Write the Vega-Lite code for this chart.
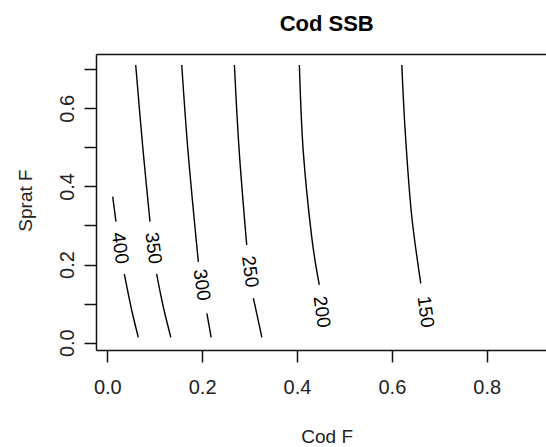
{
  "$schema": "https://vega.github.io/schema/vega-lite/v6.json",
  "width": 450,
  "height": 296,
  "autosize": "none",
  "padding": {"left": 96, "top": 54, "right": 0, "bottom": 97},
  "background": "white",
  "title": {"text": "Cod SSB", "font": "Liberation Sans", "fontSize": 22, "fontWeight": "bold", "color": "black", "anchor": "middle", "dx": 5.7, "baseline": "alphabetic", "offset": 1},
  "datasets": {
    "contours": [
      {"level": 400, "part": "a", "x": 0.0114, "y": 0.374},
      {"level": 400, "part": "a", "x": 0.0183, "y": 0.310},
      {"level": 400, "part": "b", "x": 0.0359, "y": 0.176},
      {"level": 400, "part": "b", "x": 0.0514, "y": 0.0837},
      {"level": 400, "part": "b", "x": 0.0654, "y": 0.0138},
      {"level": 350, "part": "a", "x": 0.0599, "y": 0.711},
      {"level": 350, "part": "a", "x": 0.0747, "y": 0.502},
      {"level": 350, "part": "a", "x": 0.090, "y": 0.310},
      {"level": 350, "part": "b", "x": 0.104, "y": 0.176},
      {"level": 350, "part": "b", "x": 0.118, "y": 0.092},
      {"level": 350, "part": "b", "x": 0.134, "y": 0.0138},
      {"level": 300, "part": "a", "x": 0.157, "y": 0.711},
      {"level": 300, "part": "a", "x": 0.170, "y": 0.493},
      {"level": 300, "part": "a", "x": 0.192, "y": 0.207},
      {"level": 300, "part": "b", "x": 0.210, "y": 0.075},
      {"level": 300, "part": "b", "x": 0.219, "y": 0.0138},
      {"level": 250, "part": "a", "x": 0.268, "y": 0.711},
      {"level": 250, "part": "a", "x": 0.278, "y": 0.493},
      {"level": 250, "part": "a", "x": 0.294, "y": 0.250},
      {"level": 250, "part": "b", "x": 0.308, "y": 0.114},
      {"level": 250, "part": "b", "x": 0.326, "y": 0.0138},
      {"level": 200, "part": "a", "x": 0.405, "y": 0.711},
      {"level": 200, "part": "a", "x": 0.413, "y": 0.493},
      {"level": 200, "part": "a", "x": 0.431, "y": 0.271},
      {"level": 200, "part": "a", "x": 0.439, "y": 0.203},
      {"level": 200, "part": "a", "x": 0.447, "y": 0.148},
      {"level": 150, "part": "a", "x": 0.621, "y": 0.711},
      {"level": 150, "part": "a", "x": 0.628, "y": 0.544},
      {"level": 150, "part": "a", "x": 0.642, "y": 0.323},
      {"level": 150, "part": "a", "x": 0.661, "y": 0.152}
    ],
    "labels": [
      {"level": 400, "x": 0.0268, "y": 0.242},
      {"level": 350, "x": 0.097, "y": 0.242},
      {"level": 300, "x": 0.199, "y": 0.148},
      {"level": 250, "x": 0.301, "y": 0.182},
      {"level": 200, "x": 0.452, "y": 0.079},
      {"level": 150, "x": 0.671, "y": 0.079}
    ]
  },
  "encoding": {
    "x": {
      "field": "x", "type": "quantitative",
      "scale": {"domain": [-0.0238, 0.925], "nice": false, "zero": false},
      "axis": {
        "orient": "bottom", "values": [0, 0.2, 0.4, 0.6, 0.8], "format": ".1f", "grid": false,
        "domainColor": "#111", "domainWidth": 1.5, "tickColor": "#111", "tickWidth": 1.5, "tickSize": 12,
        "labelFont": "Liberation Sans", "labelFontSize": 20, "labelColor": "#222", "labelPadding": 15, "labelFlush": false,
        "title": "Cod F", "titleFont": "Liberation Sans", "titleFontSize": 19, "titleFontWeight": "normal", "titleColor": "#222",
        "titleX": 230.7, "titleY": 86.7, "titleAlign": "center", "titleBaseline": "middle"
      }
    },
    "y": {
      "field": "y", "type": "quantitative",
      "scale": {"domain": [-0.0187, 0.739], "nice": false, "zero": false},
      "axis": {
        "values": [0, 0.1, 0.2, 0.3, 0.4, 0.5, 0.6, 0.7], "labelExpr": "round(datum.value*10) % 2 == 0 ? format(datum.value, '.1f') : ''", "grid": false,
        "domainColor": "#111", "domainWidth": 1.5, "tickColor": "#111", "tickWidth": 1.5, "tickSize": 12,
        "labelFont": "Liberation Sans", "labelFontSize": 20, "labelColor": "#222", "labelAngle": 270, "labelAlign": "center", "labelBaseline": "bottom", "labelPadding": 7, "labelFlush": false,
        "title": "Sprat F", "titleFont": "Liberation Sans", "titleFontSize": 19, "titleFontWeight": "normal", "titleColor": "#222",
        "titleAngle": 270, "titleX": -71, "titleY": 146, "titleAlign": "center", "titleBaseline": "middle"
      }
    }
  },
  "layer": [
    {
      "data": {"name": "contours"},
      "mark": {"type": "line", "color": "black", "strokeWidth": 1.4, "interpolate": "catmull-rom"},
      "encoding": {
        "detail": [{"field": "level", "type": "nominal"}, {"field": "part", "type": "nominal"}],
        "order": {"field": "y", "type": "quantitative"}
      }
    },
    {
      "data": {"name": "labels"},
      "mark": {"type": "text", "angle": 82, "font": "Liberation Sans", "fontSize": 19, "color": "black", "align": "center", "baseline": "middle"},
      "encoding": {
        "x": {
          "field": "x", "type": "quantitative",
          "scale": {"domain": [-0.0238, 0.925], "nice": false, "zero": false},
          "axis": {"orient": "top", "labels": false, "ticks": false, "grid": false, "title": null, "domainColor": "#111", "domainWidth": 1.5}
        },
        "text": {"field": "level", "type": "quantitative"}
      }
    }
  ],
  "resolve": {"axis": {"x": "independent"}},
  "config": {"view": {"stroke": null}}
}
